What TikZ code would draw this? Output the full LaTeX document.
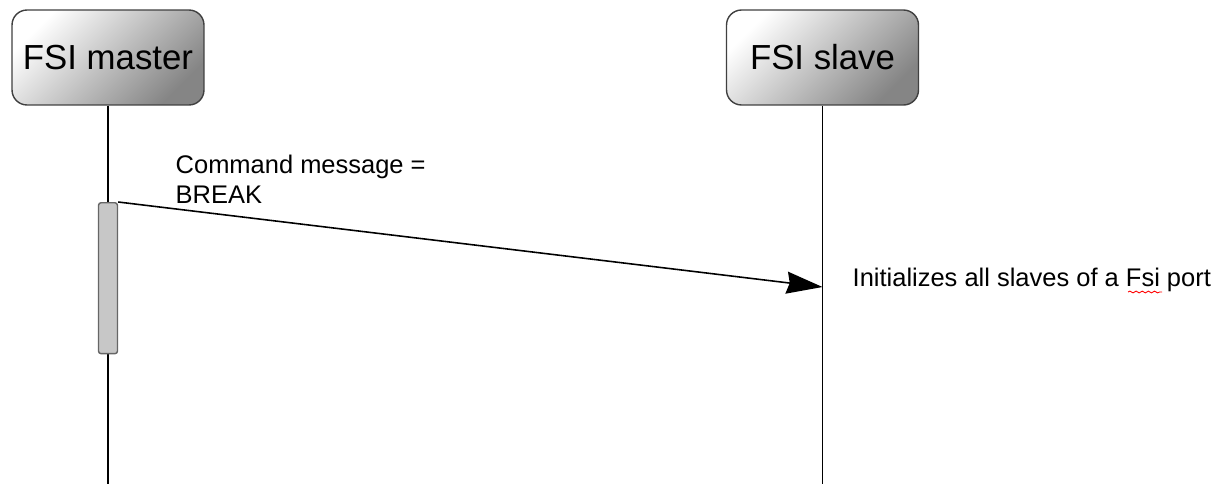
\documentclass[tikz,border=0pt]{standalone}
\usepackage{fontspec}
\setmainfont{Liberation Sans}
\usepackage{tikz}
\usetikzlibrary{arrows.meta, decorations.pathmorphing}

\tikzset{
    actor/.style={draw=black!75, rounded corners=0.3cm, minimum width=3.84cm, minimum height=1.9cm,
        top color=white, middle color=black!14, bottom color=black!48, shading angle=45,
        font=\fontsize{19.8}{23}\selectfont},
    lifeline/.style={draw=black, line width=1.1pt},
    activation/.style={draw=black!60, fill=black!22, rounded corners=1.5pt, minimum width=0.38cm, minimum height=3.02cm, inner sep=0pt},
    msg/.style={draw=black, line width=0.9pt, -{Stealth[length=0.72cm, width=0.44cm, inset=0.06cm]}},
    txt/.style={font=\fontsize{14.5}{17}\selectfont, align=left, inner sep=0pt}
}

\begin{document}
\begin{tikzpicture}[x=0.02cm, y=-0.02cm, line width=0.8pt]
        \useasboundingbox (0,0) rectangle (1222,484);

        % Participants
        \node[actor] (master) at (108,57.5) {FSI master};
        \node[actor] (slave) at (822.5,57.5) {FSI slave};

        % Lifelines
        \coordinate (masterend) at (108,484);
        \coordinate (slaveend) at (822.5,484);
        \draw[lifeline] (master.south) -- (masterend);
        \draw[lifeline] (slave.south) -- (slaveend);

        % Activation on the master
        \node[activation, anchor=north] (bar) at (108,202) {};

        % Message
        \coordinate (hit) at (822.5,287);
        \draw[msg] (bar.north east) -- (hit);
        \node[txt, anchor=south west] (cmd) at (175,204) {Command message =\\BREAK};

        % Note on the slave side
        \node[txt, anchor=base west] (note) at (852,286) {Initializes all slaves of a Fsi port};
        \draw[red, line width=0.5pt, decorate, decoration={snake, amplitude=0.5pt, segment length=3.5pt}]
            (1128,292) -- (1162,292);
    \end{tikzpicture}
\end{document}
